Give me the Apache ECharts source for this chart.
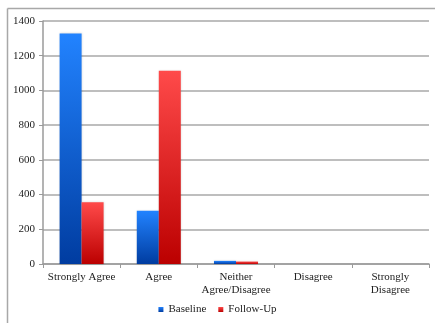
<!DOCTYPE html>
<html><head><meta charset="utf-8">
<script src="https://cdn.jsdelivr.net/npm/echarts@6/dist/echarts.min.js"></script>
<style>html,body{margin:0;padding:0;background:#fff}#c{width:435px;height:323px}</style>
</head><body><div id="c"></div>
<script>
const categories = ["Strongly Agree", "Agree", "Neither\nAgree/Disagree", "Disagree", "Strongly\nDisagree"];
const baseline = [1328, 307, 18, 0, 0];
const followUp = [356, 1113, 14, 0, 0];
const yTicks = [0, 200, 400, 600, 800, 1000, 1200, 1400];

const chart = echarts.init(document.getElementById('c'), null, {renderer: 'canvas'});
const font = '"Times New Roman", "Liberation Serif", serif';
const grad = (a, b) => new echarts.graphic.LinearGradient(0, 0, 0, 1, [{offset: 0, color: a}, {offset: 1, color: b}]);
chart.setOption({
  animation: false,
  textStyle: {fontFamily: font},
  graphic: [
    {type: 'line', shape: {x1: 7.5, y1: 8.5, x2: 435, y2: 8.5}, style: {stroke: '#a8a8a8', lineWidth: 1.5}, silent: true},
    {type: 'line', shape: {x1: 7.5, y1: 8.5, x2: 7.5, y2: 323}, style: {stroke: '#a8a8a8', lineWidth: 1.5}, silent: true}
  ],
  grid: {left: 43, right: 6, top: 21, bottom: 59},
  legend: {
    bottom: 3, left: 'center', itemWidth: 5, itemHeight: 5, itemGap: 12,
    icon: 'rect',
    textStyle: {fontFamily: font, fontSize: 11, color: '#222'},
    data: ['Baseline', 'Follow-Up']
  },
  xAxis: {
    type: 'category', data: categories,
    splitLine: {show: false},
    axisLine: {lineStyle: {color: '#9a9a9a', width: 1.5}},
    axisTick: {show: true, length: 4, lineStyle: {color: '#9a9a9a'}},
    axisLabel: {fontFamily: font, fontSize: 11, color: '#222', margin: 7, lineHeight: 13, interval: 0}
  },
  yAxis: {
    type: 'value', min: 0, max: yTicks[yTicks.length - 1], interval: 200,
    axisLine: {show: true, lineStyle: {color: '#9a9a9a', width: 1.5}},
    axisTick: {show: true, length: 4, lineStyle: {color: '#9a9a9a'}},
    splitLine: {lineStyle: {color: '#a8a8a8', width: 1.5}},
    axisLabel: {fontFamily: font, fontSize: 11, color: '#222', margin: 8, formatter: v => String(v)}
  },
  series: [
    {name: 'Baseline', type: 'bar', data: baseline, barWidth: 22, barGap: '0%',
     itemStyle: {color: grad('#2283ff', '#003ca0'), shadowColor: 'rgba(0,0,0,0.15)', shadowBlur: 2}},
    {name: 'Follow-Up', type: 'bar', data: followUp, barWidth: 22,
     itemStyle: {color: grad('#ff4a4a', '#bb0000'), shadowColor: 'rgba(0,0,0,0.15)', shadowBlur: 2}}
  ]
});
</script></body></html>
